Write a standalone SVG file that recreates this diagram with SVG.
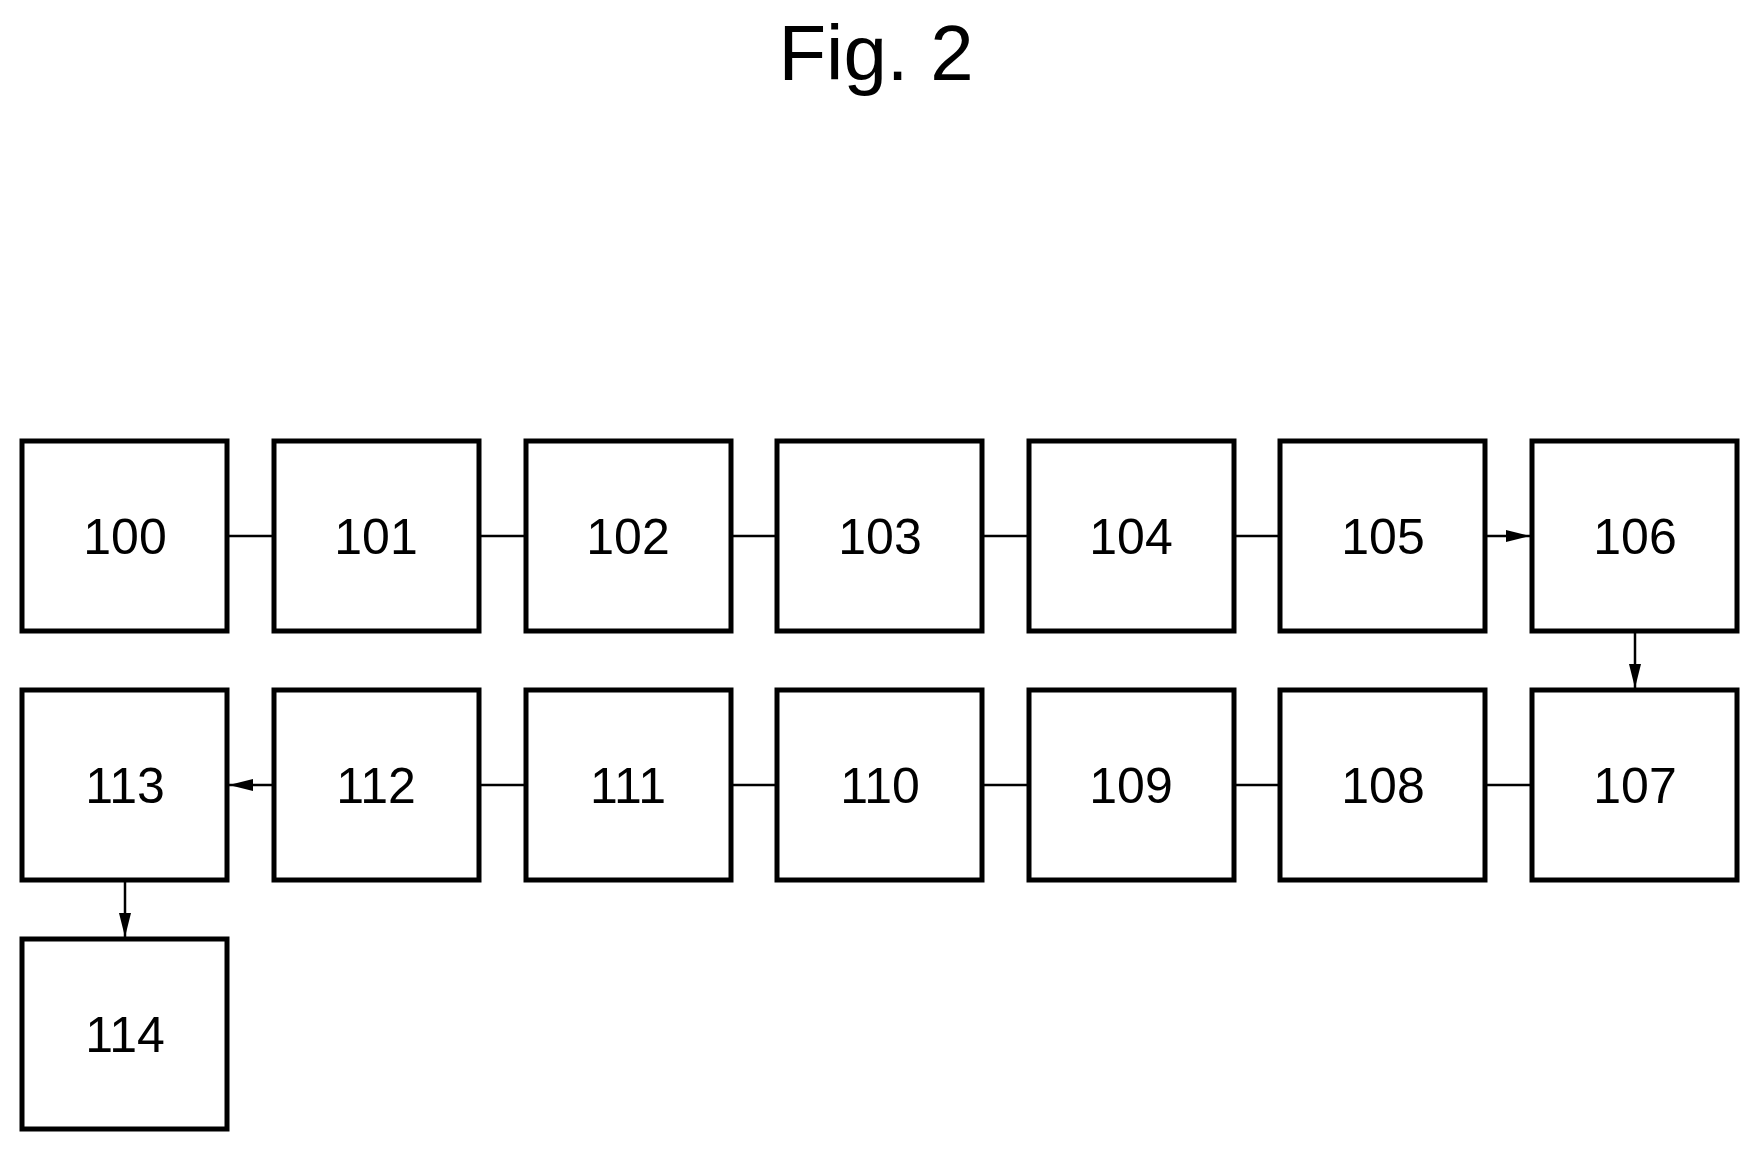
<svg xmlns="http://www.w3.org/2000/svg" width="1761" height="1152" viewBox="0 0 1761 1152">
<style>
rect{fill:#fff;stroke:#000;stroke-width:5}
text{font-family:"Liberation Sans",Arial,sans-serif;fill:#000;text-anchor:middle}
.l{font-size:50px}
#c line{stroke:#000;stroke-width:2.5}
</style>
<defs><marker id="a" markerWidth="10" markerHeight="8" refX="10" refY="4" orient="auto" markerUnits="userSpaceOnUse"><path d="M0,0L24,4L0,8z" transform="scale(1)"/></marker>
<marker id="b" viewBox="0 0 24 12" markerWidth="24" markerHeight="12" refX="24" refY="6" orient="auto" markerUnits="userSpaceOnUse"><path d="M0,0L24,6L0,12z"/></marker></defs>
<text x="876" y="80" font-size="78">Fig. 2</text>
<g id="c">
<line x1="227" y1="536" x2="274" y2="536"/>
<line x1="479" y1="536" x2="526" y2="536"/>
<line x1="731" y1="536" x2="777" y2="536"/>
<line x1="982" y1="536" x2="1029" y2="536"/>
<line x1="1234" y1="536" x2="1280" y2="536"/>
<line x1="1485" y1="536" x2="1530" y2="536" marker-end="url(#b)"/>
<line x1="1635" y1="633" x2="1635" y2="688" marker-end="url(#b)"/>
<line x1="1485" y1="785" x2="1532" y2="785"/>
<line x1="1234" y1="785" x2="1280" y2="785"/>
<line x1="982" y1="785" x2="1029" y2="785"/>
<line x1="731" y1="785" x2="777" y2="785"/>
<line x1="479" y1="785" x2="526" y2="785"/>
<line x1="274" y1="785" x2="229" y2="785" marker-end="url(#b)"/>
<line x1="125" y1="882" x2="125" y2="937" marker-end="url(#b)"/>
</g>
<g id="n100"><rect x="22" y="441" width="205" height="190"/><text class="l" x="125" y="554">100</text></g>
<g id="n101"><rect x="274" y="441" width="205" height="190"/><text class="l" x="376" y="554">101</text></g>
<g id="n102"><rect x="526" y="441" width="205" height="190"/><text class="l" x="628" y="554">102</text></g>
<g id="n103"><rect x="777" y="441" width="205" height="190"/><text class="l" x="880" y="554">103</text></g>
<g id="n104"><rect x="1029" y="441" width="205" height="190"/><text class="l" x="1131" y="554">104</text></g>
<g id="n105"><rect x="1280" y="441" width="205" height="190"/><text class="l" x="1383" y="554">105</text></g>
<g id="n106"><rect x="1532" y="441" width="205" height="190"/><text class="l" x="1635" y="554">106</text></g>
<g id="n107"><rect x="1532" y="690" width="205" height="190"/><text class="l" x="1635" y="803">107</text></g>
<g id="n108"><rect x="1280" y="690" width="205" height="190"/><text class="l" x="1383" y="803">108</text></g>
<g id="n109"><rect x="1029" y="690" width="205" height="190"/><text class="l" x="1131" y="803">109</text></g>
<g id="n110"><rect x="777" y="690" width="205" height="190"/><text class="l" x="880" y="803">110</text></g>
<g id="n111"><rect x="526" y="690" width="205" height="190"/><text class="l" x="628" y="803">111</text></g>
<g id="n112"><rect x="274" y="690" width="205" height="190"/><text class="l" x="376" y="803">112</text></g>
<g id="n113"><rect x="22" y="690" width="205" height="190"/><text class="l" x="125" y="803">113</text></g>
<g id="n114"><rect x="22" y="939" width="205" height="190"/><text class="l" x="125" y="1052">114</text></g>
</svg>
